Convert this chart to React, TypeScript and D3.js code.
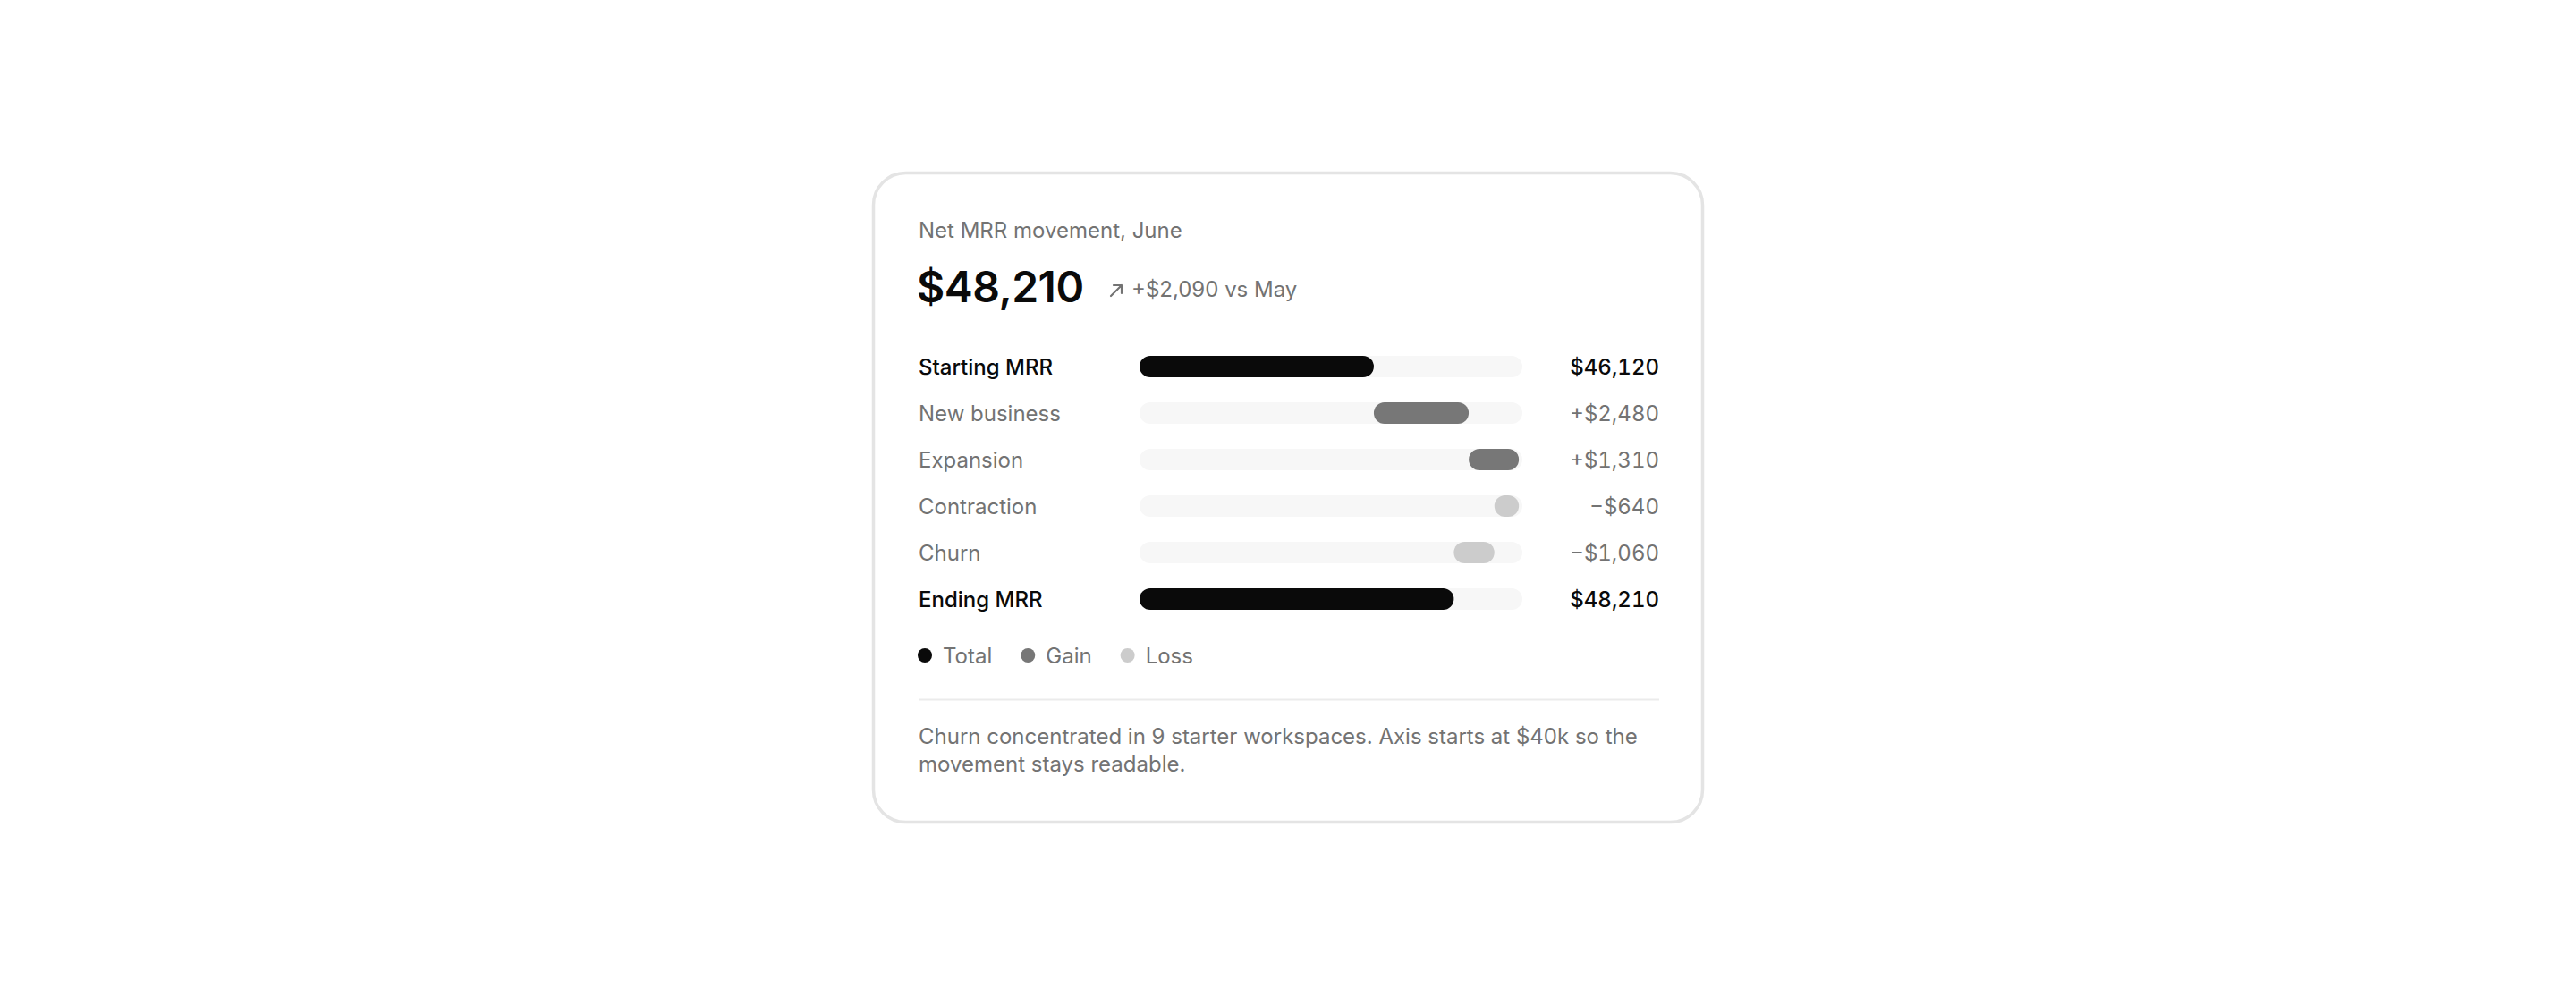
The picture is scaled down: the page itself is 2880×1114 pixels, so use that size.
import * as d3 from "d3";
import { useEffect, useRef } from "react";

const categories = ["Starting MRR", "New business", "Expansion", "Contraction", "Churn", "Ending MRR"];
const kinds = ["total", "gain", "gain", "loss", "loss", "total"];
const amounts = [46120, 2480, 1310, -640, -1060, 48210];
const valueLabels = ["$46,120", "+$2,480", "+$1,310", "\u2212$640", "\u2212$1,060", "$48,210"];
const legendLabels = ["Total", "Gain", "Loss"];
const axisDomain = [40000, 50000];

const colors: Record<string, string> = { total: "#0a0a0a", gain: "#777777", loss: "#cccccc" };
const grey = "#737373";
const font = "Inter, 'Noto Sans', sans-serif";

const App = () => {
    const svgRef = useRef<SVGSVGElement | null>(null);
    const dimensions = { width: 2880, height: 1114 };
    const card = { x: 976.5, y: 193.5, width: 927, height: 726 };
    const content = { left: 1027, right: 1855 };

    useEffect(() => {
        const svg = d3.select(svgRef.current);
        svg.selectAll("*").remove();
        svg.style("font-family", font);

        // card
        svg.append("rect")
            .attr("x", card.x)
            .attr("y", card.y)
            .attr("width", card.width)
            .attr("height", card.height)
            .attr("rx", 36)
            .attr("fill", "#ffffff")
            .attr("stroke", "#e4e4e4")
            .attr("stroke-width", 3.5);

        // header
        svg.append("text")
            .attr("x", content.left)
            .attr("y", 266)
            .attr("font-size", 24)
            .attr("fill", grey)
            .text("Net MRR movement, June");

        svg.append("text")
            .attr("x", content.left - 2)
            .attr("y", 338)
            .attr("font-size", 48)
            .attr("font-weight", 600)
            .attr("letter-spacing", -0.5)
            .attr("fill", "#0a0a0a")
            .text("$48,210");

        // arrow icon
        svg.append("path")
            .attr("d", "M1242,331 L1254,319 M1245,319 L1254,319 L1254,328")
            .attr("fill", "none")
            .attr("stroke", grey)
            .attr("stroke-width", 2.2)
            .attr("stroke-linecap", "round")
            .attr("stroke-linejoin", "round");

        svg.append("text")
            .attr("x", 1265)
            .attr("y", 332)
            .attr("font-size", 24)
            .attr("fill", grey)
            .text("+$2,090 vs May");

        // bars
        const xScale = d3.scaleLinear().domain(axisDomain).range([1274, 1702]);
        const yScale = d3
            .scalePoint<string>()
            .domain(categories)
            .range([410, 670]);
        const barHeight = 24;

        // running waterfall positions
        let running = 0;
        const segments = categories.map((c, i) => {
            const kind = kinds[i];
            let from: number, to: number;
            if (kind === "total") {
                from = axisDomain[0];
                to = amounts[i];
                running = amounts[i];
            } else {
                from = running;
                to = running + amounts[i];
                running = to;
            }
            return { c, kind, lo: Math.min(from, to), hi: Math.max(from, to), label: valueLabels[i] };
        });

        const rows = svg.append("g");

        rows.selectAll(".track")
            .data(segments)
            .join("rect")
            .attr("x", xScale(axisDomain[0]))
            .attr("y", (d) => (yScale(d.c) as number) - barHeight / 2)
            .attr("width", xScale(axisDomain[1]) - xScale(axisDomain[0]))
            .attr("height", barHeight)
            .attr("rx", barHeight / 2)
            .attr("fill", "#f7f7f7");

        rows.selectAll(".bar")
            .data(segments)
            .join("rect")
            .attr("x", (d) => xScale(d.lo))
            .attr("y", (d) => (yScale(d.c) as number) - barHeight / 2)
            .attr("width", (d) => Math.max(xScale(d.hi) - xScale(d.lo), barHeight))
            .attr("height", barHeight)
            .attr("rx", barHeight / 2)
            .attr("fill", (d) => colors[d.kind]);

        rows.selectAll(".label")
            .data(segments)
            .join("text")
            .attr("x", content.left)
            .attr("y", (d) => (yScale(d.c) as number) + 8.5)
            .attr("font-size", 24)
            .attr("font-weight", (d) => (d.kind === "total" ? 500 : 400))
            .attr("fill", (d) => (d.kind === "total" ? "#0a0a0a" : grey))
            .text((d) => d.c);

        rows.selectAll(".value")
            .data(segments)
            .join("text")
            .attr("x", content.right)
            .attr("y", (d) => (yScale(d.c) as number) + 8.5)
            .attr("text-anchor", "end")
            .attr("font-size", 24)
            .attr("font-weight", (d) => (d.kind === "total" ? 500 : 400))
            .style("font-variant-numeric", "tabular-nums")
            .attr("fill", (d) => (d.kind === "total" ? "#0a0a0a" : grey))
            .text((d) => d.label);

        // legend
        const legend = svg.append("g").attr("transform", "translate(0, 733)");
        let lx = content.left - 1;
        legendLabels.forEach((l, i) => {
            const key = ["total", "gain", "loss"][i];
            legend.append("circle")
                .attr("cx", lx + 8)
                .attr("cy", 0)
                .attr("r", 8)
                .attr("fill", colors[key]);
            const t = legend.append("text")
                .attr("x", lx + 28)
                .attr("y", 9)
                .attr("font-size", 24)
                .attr("fill", grey)
                .text(l);
            const w = (t.node() as SVGTextElement).getComputedTextLength();
            lx = lx + 28 + w + 32;
        });

        // divider
        svg.append("line")
            .attr("x1", content.left)
            .attr("x2", content.right)
            .attr("y1", 782.5)
            .attr("y2", 782.5)
            .attr("stroke", "#ebebeb")
            .attr("stroke-width", 2);

        // footnote
        const note = svg.append("text")
            .attr("font-size", 24)
            .attr("fill", grey);
        ["Churn concentrated in 9 starter workspaces. Axis starts at $40k so the", "movement stays readable."].forEach(
            (line, i) => {
                note.append("tspan")
                    .attr("x", content.left)
                    .attr("y", 832 + i * 31)
                    .text(line);
            }
        );
    }, []);

    return (
        <svg
            ref={svgRef}
            width={dimensions.width}
            height={dimensions.height}
            style={{ position: "absolute", left: 0, top: 0, background: "#ffffff" }}
        />
    );
};

export default App;
